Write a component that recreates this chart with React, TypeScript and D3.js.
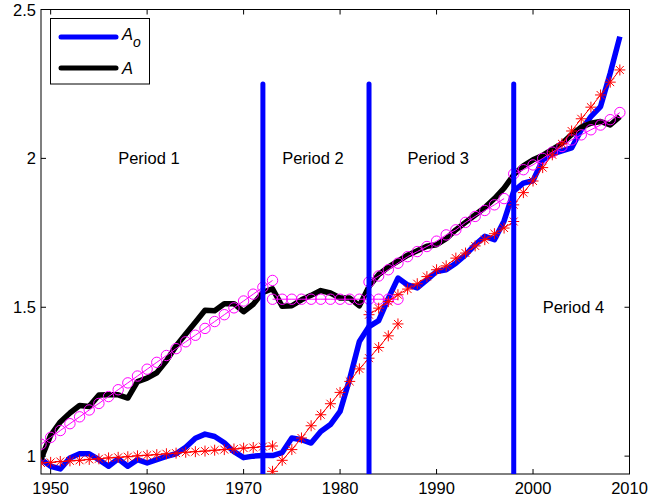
import * as d3 from 'd3'

// observed series, one value per year
const ao_start = 1949
const ao_vals = [0.99, 0.966, 0.957, 0.994, 1.008, 1.008, 0.988, 0.966, 0.991, 0.966, 0.988, 0.977, 0.988, 0.999, 1.008, 1.03, 1.06, 1.074, 1.066, 1.045, 1.015, 0.995, 1.0, 1.002, 1.002, 1.012, 1.061, 1.055, 1.044, 1.083, 1.106, 1.15, 1.26, 1.385, 1.435, 1.455, 1.53, 1.598, 1.575, 1.565, 1.592, 1.62, 1.626, 1.648, 1.676, 1.71, 1.738, 1.727, 1.79, 1.89, 1.917, 1.925, 1.995, 2.015, 2.025, 2.035, 2.096, 2.14, 2.174, 2.286, 2.409]

const a_start = 1949
const a_vals = [0.99, 1.07, 1.115, 1.145, 1.17, 1.167, 1.205, 1.206, 1.206, 1.195, 1.25, 1.262, 1.28, 1.32, 1.37, 1.41, 1.45, 1.49, 1.488, 1.512, 1.512, 1.485, 1.51, 1.55, 1.562, 1.503, 1.505, 1.525, 1.54, 1.556, 1.548, 1.531, 1.531, 1.505, 1.57, 1.61, 1.635, 1.655, 1.675, 1.69, 1.705, 1.71, 1.73, 1.76, 1.785, 1.81, 1.835, 1.865, 1.9, 1.945, 1.975, 1.995, 2.01, 2.03, 2.05, 2.08, 2.105, 2.118, 2.124, 2.112, 2.14]

// fitted segments for A (magenta circles)
const fitA = [
  { start: 1949, vals: [1.04, 1.063, 1.086, 1.109, 1.132, 1.155, 1.177, 1.2, 1.223, 1.246, 1.269, 1.292, 1.315, 1.338, 1.361, 1.384, 1.406, 1.429, 1.452, 1.475, 1.498, 1.521, 1.544, 1.567, 1.59] },
  { start: 1973, vals: [1.527, 1.527, 1.527, 1.527, 1.527, 1.527, 1.527, 1.527, 1.527, 1.527, 1.527, 1.527, 1.527, 1.527] },
  { start: 1983, vals: [1.585, 1.605, 1.626, 1.648, 1.67, 1.687, 1.704, 1.722, 1.743, 1.76, 1.785, 1.805, 1.825, 1.844, 1.865] },
  { start: 1998, vals: [1.948, 1.962, 1.978, 2.0, 2.021, 2.04, 2.062, 2.079, 2.096, 2.112, 2.13, 2.154] },
]

// fitted segments for Ao (red stars)
const fitAo = [
  { start: 1949, vals: [0.977, 0.979, 0.982, 0.984, 0.986, 0.989, 0.991, 0.994, 0.996, 0.998, 1.001, 1.003, 1.005, 1.008, 1.01, 1.013, 1.015, 1.017, 1.02, 1.022, 1.024, 1.027, 1.029, 1.032, 1.034] },
  { start: 1973, vals: [0.949, 0.986, 1.022, 1.061, 1.102, 1.139, 1.176, 1.214, 1.251, 1.293, 1.329, 1.365, 1.404, 1.444] },
  { start: 1983, vals: [1.475, 1.497, 1.519, 1.542, 1.561, 1.579, 1.603, 1.626, 1.639, 1.665, 1.682, 1.706, 1.727, 1.747, 1.766, 1.788] },
  { start: 1998, vals: [1.844, 1.885, 1.924, 1.969, 2.012, 2.049, 2.092, 2.133, 2.172, 2.213, 2.256, 2.297] },
]

const breaks = [1972, 1983, 1998]
const breakTop = 2.25

const periods = [
  { label: 'Period 1', x: 1957, y: 2.0 },
  { label: 'Period 2', x: 1974, y: 2.0 },
  { label: 'Period 3', x: 1987, y: 2.0 },
  { label: 'Period 4', x: 2001, y: 1.5 },
]

const xTicks = [1950, 1960, 1970, 1980, 1990, 2000, 2010]
const yTicks = [1, 1.5, 2, 2.5]

const W = 650
const H = 503
const left = 41, right = 629.5, top = 9.5, bottom = 474
const font = '"Liberation Sans", Arial, Helvetica, sans-serif'

function toPts(start: number, vals: number[]) {
  return vals.map((v, i) => [start + i, v] as [number, number])
}

function star(r: number) {
  const a = r * 0.72
  return `M${-r},0H${r}M0,${-r}V${r}M${-a},${-a}L${a},${a}M${-a},${a}L${a},${-a}`
}

export default function App() {
  const x = d3.scaleLinear().domain([1949, 2010]).range([left, right])
  const y = d3.scaleLinear().domain([0.94, 2.5]).range([bottom, top])
  const line = d3.line<[number, number]>().x(d => x(d[0])).y(d => y(d[1]))
  const tl = 5

  return (
    <svg width={W} height={H} style={{ position: 'absolute', left: 0, top: 0, background: '#fff' }} fontFamily={font}>
      <rect x={0} y={0} width={W} height={H} fill="#fff" />
      <defs>
        <clipPath id="plot"><rect x={left} y={top} width={right - left} height={bottom - top} /></clipPath>
      </defs>

      {/* axes box + ticks */}
      <rect x={left} y={top} width={right - left} height={bottom - top} fill="none" stroke="#000" strokeWidth={1} />
      {xTicks.map(t => (
        <g key={'x' + t}>
          <line x1={x(t)} x2={x(t)} y1={bottom} y2={bottom - tl} stroke="#000" />
          <line x1={x(t)} x2={x(t)} y1={top} y2={top + tl} stroke="#000" />
          <text x={x(t)} y={494} fontSize={16.5} textAnchor="middle" fill="#000">{t}</text>
        </g>
      ))}
      {yTicks.map(t => (
        <g key={'y' + t}>
          <line x1={left} x2={left + tl} y1={y(t)} y2={y(t)} stroke="#000" />
          <line x1={right} x2={right - tl} y1={y(t)} y2={y(t)} stroke="#000" />
          <text x={36} y={y(t) + 6} fontSize={16.5} textAnchor="end" fill="#000">{t}</text>
        </g>
      ))}

      <g clipPath="url(#plot)">
        <path d={line(toPts(ao_start, ao_vals)) || ''} fill="none" stroke="#0000ff" strokeWidth={5.5} strokeLinejoin="round" />
        <path d={line(toPts(a_start, a_vals)) || ''} fill="none" stroke="#000" strokeWidth={5.5} strokeLinejoin="round" />

        {fitA.map((s, k) => (
          <g key={'fa' + k}>
            <path d={line(toPts(s.start, s.vals)) || ''} fill="none" stroke="#ff00ff" strokeWidth={1} />
            {toPts(s.start, s.vals).map((p, i) => (
              <circle key={i} cx={x(p[0])} cy={y(p[1])} r={5.2} fill="none" stroke="#ff00ff" strokeWidth={1} />
            ))}
          </g>
        ))}

        {fitAo.map((s, k) => (
          <g key={'fo' + k}>
            <path d={line(toPts(s.start, s.vals)) || ''} fill="none" stroke="#ff0000" strokeWidth={1} />
            {toPts(s.start, s.vals).map((p, i) => (
              <path key={i} transform={`translate(${x(p[0])},${y(p[1])})`} d={star(5.5)} fill="none" stroke="#ff0000" strokeWidth={1} />
            ))}
          </g>
        ))}

        {breaks.map(b => (
          <line key={b} x1={x(b)} x2={x(b)} y1={y(breakTop)} y2={bottom + 5} stroke="#0000ff" strokeWidth={5} strokeLinecap="round" />
        ))}
      </g>

      {periods.map(p => (
        <text key={p.label} x={x(p.x)} y={y(p.y) + 6} fontSize={16.5} fill="#000">{p.label}</text>
      ))}

      {/* legend */}
      <g>
        <rect x={50.5} y={18.5} width={99} height={65.5} fill="#fff" stroke="#000" strokeWidth={1} />
        <line x1={61} x2={116} y1={37} y2={37} stroke="#0000ff" strokeWidth={5} strokeLinecap="round" />
        <line x1={61} x2={116} y1={68} y2={68} stroke="#000" strokeWidth={5} strokeLinecap="round" />
        <text x={122} y={40} fontSize={16.5} fontStyle="italic" fill="#000">A<tspan dy={7} fontSize={14}>o</tspan></text>
        <text x={122} y={74} fontSize={16.5} fontStyle="italic" fill="#000">A</text>
      </g>
    </svg>
  )
}
